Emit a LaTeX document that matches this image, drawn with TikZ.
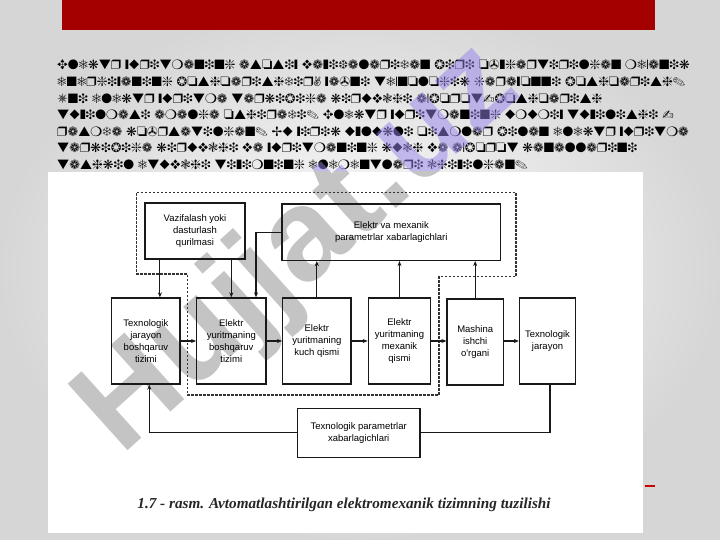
\documentclass[tikz,border=0pt]{standalone}
\usepackage{fontspec}
\setmainfont{Liberation Serif}
\newfontfamily\diagfont{Liberation Sans}
\newfontfamily\wmfont{Liberation Sans}
\usepackage{pifont}
\usetikzlibrary{arrows.meta,calc}
\definecolor{slidered}{HTML}{A50000}
\definecolor{wmpurple}{RGB}{150,130,235}
\newcommand\zdf{\fontsize{13.6}{16}\usefont{U}{pzd}{m}{n}}
\tikzset{
  dl/.style={anchor=base west, inner sep=0pt, font=\zdf, text=black},
  wm/.style={rotate=42, inner sep=0pt, font=\wmfont\bfseries\fontsize{130}{130}\selectfont},
  blk/.style={draw=black!90, line width=1.3pt, align=center, inner sep=1pt,
    font=\diagfont\fontsize{9.5}{11.8}\selectfont, text=black},
  rowblk/.style={blk, minimum height=86pt},
  arr/.style={line width=1.1pt, draw=black!90, -{Stealth[length=5pt,width=4pt]}},
  ln/.style={line width=1.1pt, draw=black!90},
  dashbound/.style={line width=1.1pt, draw=black!80, dash pattern=on 2.5pt off 1.5pt}
}
\begin{document}
\begin{tikzpicture}[x=1pt,y=-1pt]
\useasboundingbox (0,0) rectangle (720,540);
\shade[inner color=white, outer color=black!16] (0,0) rectangle (720,540);
\fill[slidered] (62,0) rectangle (655,30);
% paragraph set in Zapf Dingbats
\node[dl] (l1) at (57,70) {Elektr yuritmaning asosiy vazifalaridan biri o'zgartirilgan mexanik};
\node[dl] (l2) at (57,86.6) {energiyaning boshqarishdir, ya'ni texnologik jarayonni boshqarish.};
\node[dl] (l3) at (57,103.1) {Uni elektr yuritma tarkibiga kiruvchi axborot-boshqarish};
\node[dl] (l4) at (57,119.7) {tuzilmasi amalga oshiradi. Elektr yuritmaning umumiy tuzilishi -};
\node[dl] (l5) at (57,136.3) {rasmda ko'rsatilgan. Bu yirik uzlukli qismlar bilan elektr yuritma};
\node[dl] (l6) at (57,152.8) {tarkibiga kiruvchi va yuritmaning kuch va axborot kanallarini};
\node[dl] (l7) at (57,169.3) {tashkil etuvchi tizimning elementlari chizilgan.};
% watermark over slide
\node[wm, text=wmpurple, opacity=.5] (wm1) at (300,250) {Hujjat.uz};
% figure area
\fill[white] (48,172) rectangle (643,533);
\begin{scope}
\clip (48,172) rectangle (643,533);
\node[wm, text=black!23] (wm2) at (300,250) {Hujjat.uz};
\end{scope}
% dashed boundary
\draw[dashbound] (136.7,192.7) -- (516,192.7) -- (516,276.7) -- (439,276.7) -- (439,395) -- (187.3,395) -- (187.3,274) -- (136.7,274) -- cycle;
% blocks
\node[blk, minimum width=100pt, minimum height=56pt] (vaz) at (195,231) {Vazifalash yoki\\dasturlash\\qurilmasi};
\node[blk, minimum width=218.7pt, minimum height=56.5pt] (sens) at (391.3,232.2) {Elektr va mexanik\\parametrlar xabarlagichlari};
\node[rowblk, minimum width=68.3pt] (tjbt) at (145.9,341) {Texnologik\\jarayon\\boshqaruv\\tizimi};
\node[rowblk, minimum width=69.2pt] (eybt) at (231.3,341) {Elektr\\yuritmaning\\boshqaruv\\tizimi};
\node[rowblk, minimum width=68.2pt] (kuch) at (316.8,341) {Elektr\\yuritmaning\\kuch qismi};
\node[rowblk, minimum width=62.4pt] (mex) at (399.5,341) {Elektr\\yuritmaning\\mexanik\\qismi};
\node[rowblk, minimum width=56.3pt] (mash) at (475.2,342) {Mashina\\ishchi\\o'rgani};
\node[rowblk, minimum width=56pt] (tj) at (547.5,341) {Texnologik\\jarayon};
\node[blk, minimum width=122.7pt, minimum height=49pt] (par) at (358.7,432.8) {Texnologik parametrlar\\xabarlagichlari};
% connectors
\draw[arr] ([xshift=14pt]tjbt.north |- vaz.south) -- ([xshift=14pt]tjbt.north);
\draw[arr] (eybt.north |- vaz.south) -- (eybt.north);
\draw[arr] (sens.west) -| ([xshift=24.7pt]eybt.north);
\draw[arr] (kuch.north) -- (kuch.north |- sens.south);
\draw[arr] (mex.north) -- (mex.north |- sens.south);
\draw[arr] (mash.north) -- (mash.north |- sens.south);
\draw[arr] (tjbt.east) -- (eybt.west);
\draw[arr] (eybt.east) -- (kuch.west);
\draw[arr] (kuch.east) -- (mex.west);
\draw[arr] (mex.east) -- (mex.east -| mash.west);
\draw[arr] (mex.east -| mash.east) -- (mex.east -| tj.west);
\draw[ln] ([xshift=2.5pt]tj.south) |- (par.east);
\draw[arr] (par.west) -| ([xshift=3.4pt]tjbt.south);
% caption
\node[font=\bfseries\itshape\fontsize{15.2}{18}\selectfont, text=black!85] (cap) at (344,505) {1.7 - rasm. Avtomatlashtirilgan elektromexanik tizimning tuzilishi};
\draw[red!80!black, line width=2pt] (645,486) -- (655,486);
\end{tikzpicture}
\end{document}
